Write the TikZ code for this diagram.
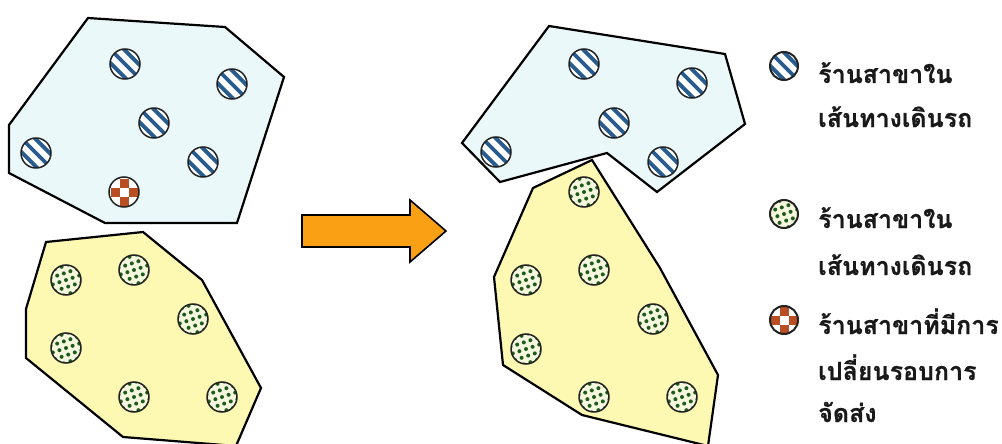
\documentclass[tikz,border=0pt]{standalone}
\usepackage{fontspec}
\newfontfamily\thaifont[Script=Thai,FakeBold=0.6]{Loma}
\usetikzlibrary{calc}
\definecolor{polyblue}{RGB}{234,248,250}
\definecolor{polyyellow}{RGB}{253,249,178}
\definecolor{stripeblue}{RGB}{40,92,142}
\definecolor{dotgreen}{RGB}{30,90,25}
\definecolor{dotbg}{RGB}{245,248,222}
\definecolor{checkcol}{RGB}{185,78,35}
\definecolor{arrowcol}{RGB}{250,160,20}
\definecolor{circline}{RGB}{35,35,35}
\definecolor{legtext}{RGB}{25,25,25}
\tikzset{
  shopbase/.style={circle, draw=circline, line width=1.5, minimum size=30, inner sep=0},
  stripeshop/.style={shopbase, fill=white, path picture={
    \foreach \k in {-3,...,3}{
      \draw[stripeblue, line width=3.8] ($(path picture bounding box.center)+(\k*6.8-25,-\k*6.8-25)$) -- ++(50,50);
    }}},
  dotshop/.style={shopbase, fill=dotbg, path picture={
    \foreach \i in {-3,...,3}{ \foreach \j in {-3,...,3}{
      \fill[dotgreen] ($(path picture bounding box.center)+(\i*6.6+\j*2.2,\j*6.6-\i*2.2)$) circle (2.0);
    }}}},
  checkshop/.style={shopbase, fill=white, path picture={
    \foreach \i/\j in {-2/-1,-2/1,-1/-2,-1/0,-1/2,0/-1,0/1,1/-2,1/0,1/2,2/-1,2/1}{
      \fill[checkcol] ($(path picture bounding box.center)+(\i*9-4.5,\j*9-4.5)$) rectangle ++(9,9);
    }}},
  legicon/.style={minimum size=28, line width=2},
  region/.style={draw=black, line width=2.2, line join=miter},
  legtxt/.style={anchor=base west, inner sep=0, text=legtext, font=\thaifont\bfseries\fontsize{25}{29}\selectfont},
}
\begin{document}
\begin{tikzpicture}[x=1pt,y=-1pt]
\useasboundingbox (0,0) rectangle (1002,444);
% left clusters
\draw[region, fill=polyblue] (88,18) -- (225,27) -- (284,77) -- (237,223) -- (105,223) -- (9,173) -- (9,125) -- cycle;
\draw[region, fill=polyyellow] (46,242) -- (143,232) -- (202,280) -- (261,388) -- (236,446) -- (123,437) -- (26,358) -- (26,309) -- cycle;
\node[stripeshop] (a1) at (125,64) {};
\node[stripeshop] (a2) at (232,84) {};
\node[stripeshop] (a3) at (154,123) {};
\node[stripeshop] (a4) at (36,153) {};
\node[stripeshop] (a5) at (203,162) {};
\node[checkshop] (a6) at (124,192) {};
\node[dotshop] (b1) at (66,280) {};
\node[dotshop] (b2) at (134,270) {};
\node[dotshop] (b3) at (193,319) {};
\node[dotshop] (b4) at (66,348) {};
\node[dotshop] (b5) at (134,397) {};
\node[dotshop] (b6) at (222,397) {};
% arrow
\draw[fill=arrowcol, draw=black, line width=1.6, line join=miter] (302,215) -- (410,215) -- (410,200) -- (446,231) -- (410,262) -- (410,247) -- (302,247) -- cycle;
% right clusters
\draw[region, fill=polyyellow] (592,160) -- (660,268) -- (718,375) -- (708,446) -- (582,415) -- (503,365) -- (494,277) -- (533,188) -- cycle;
\draw[region, fill=polyblue] (549,26) -- (725,54) -- (745,124) -- (657,192) -- (607,153) -- (500,182) -- (462,143) -- cycle;
\node[stripeshop] (c1) at (584,64) {};
\node[stripeshop] (c2) at (692,83) {};
\node[stripeshop] (c3) at (614,123) {};
\node[stripeshop] (c4) at (496,152) {};
\node[stripeshop] (c5) at (663,162) {};
\node[dotshop] (d1) at (584,192) {};
\node[dotshop] (d2) at (594,270) {};
\node[dotshop] (d3) at (526,280) {};
\node[dotshop] (d4) at (653,319) {};
\node[dotshop] (d5) at (526,349) {};
\node[dotshop] (d6) at (594,397) {};
\node[dotshop] (d7) at (682,397) {};
% legend
\node[stripeshop, legicon] (l1) at (784,66) {};
\node[dotshop, legicon] (l2) at (784,214) {};
\node[checkshop, legicon] (l3) at (784,320) {};
\node[legtxt] (t1a) at (818,83) {ร้านสาขาใน};
\node[legtxt] (t1b) at (818,127) {เส้นทางเดินรถ};
\node[legtxt] (t2a) at (818,228) {ร้านสาขาใน};
\node[legtxt] (t2b) at (818,275) {เส้นทางเดินรถ};
\node[legtxt] (t3a) at (818,334) {ร้านสาขาที่มีการ};
\node[legtxt] (t3b) at (818,380) {เปลี่ยนรอบการ};
\node[legtxt] (t3c) at (818,422) {จัดส่ง};
\end{tikzpicture}
\end{document}
